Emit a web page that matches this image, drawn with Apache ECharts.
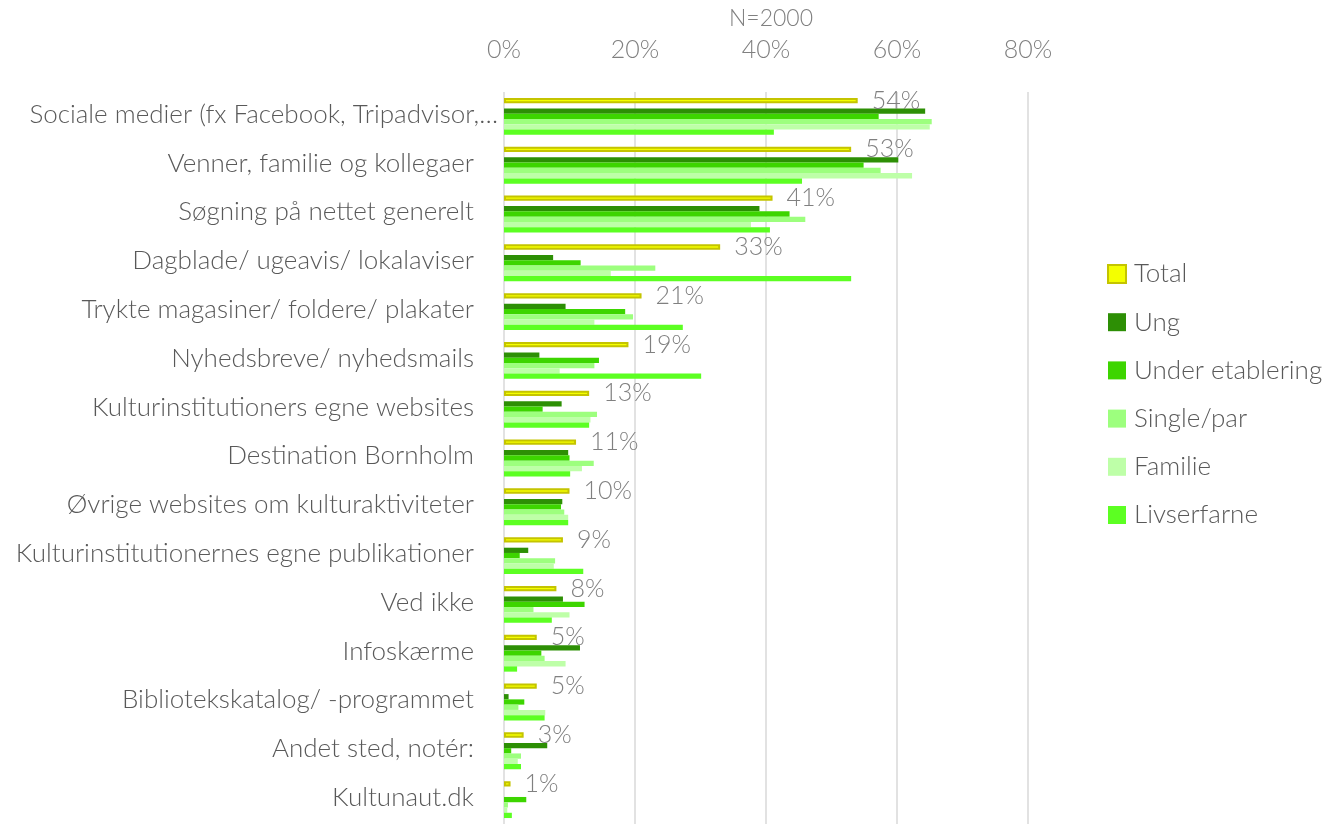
<!DOCTYPE html>
<html>
<head>
<meta charset="utf-8">
<script src="https://cdn.jsdelivr.net/npm/echarts@6/dist/echarts.min.js"></script>
<style>
  html, body { margin: 0; padding: 0; background: #ffffff; }
  #chart { width: 1324px; height: 824px; }
</style>
</head>
<body>
<div id="chart"></div>
<script>
// Where respondents find information about cultural activities (share, %)
const categories = [
  'Sociale medier (fx Facebook, Tripadvisor,…',
  'Venner, familie og kollegaer',
  'Søgning på nettet generelt',
  'Dagblade/ ugeavis/ lokalaviser',
  'Trykte magasiner/ foldere/ plakater',
  'Nyhedsbreve/ nyhedsmails',
  'Kulturinstitutioners egne websites',
  'Destination Bornholm',
  'Øvrige websites om kulturaktiviteter',
  'Kulturinstitutionernes egne publikationer',
  'Ved ikke',
  'Infoskærme',
  'Bibliotekskatalog/ -programmet',
  'Andet sted, notér:',
  'Kultunaut.dk'
];

const seriesNames = ['Total', 'Ung', 'Under etablering', 'Single/par', 'Familie', 'Livserfarne'];

const total            = [54, 53, 41, 33, 21, 19, 13, 11, 10, 9, 8, 5, 5, 3, 1];
const ung              = [64.3, 60.2, 39.0, 7.5, 9.4, 5.4, 8.8, 9.8, 8.9, 3.7, 9.0, 11.6, 0.7, 6.6, 0];
const underEtablering  = [57.2, 54.9, 43.6, 11.7, 18.5, 14.5, 5.9, 10.0, 8.7, 2.4, 12.3, 5.7, 3.1, 1.1, 3.4];
const singlePar        = [65.3, 57.5, 46.0, 23.1, 19.7, 13.8, 14.2, 13.7, 9.2, 7.8, 4.5, 6.2, 2.2, 2.6, 0.6];
const familie          = [65.0, 62.3, 37.7, 16.3, 13.8, 8.5, 13.2, 11.9, 9.8, 7.6, 10.0, 9.4, 6.3, 2.1, 0.5];
const livserfarne      = [41.2, 45.5, 40.6, 53.0, 27.3, 30.1, 13.0, 10.1, 9.8, 12.1, 7.3, 2.0, 6.2, 2.6, 1.2];

const axisMin = 0;
const axisMax = 80;
const axisStep = 20;

const FONT = 'Lato';
const TEXT_DARK = '#595959';
const TEXT_MID = '#808080';
const BAR_W = 5.27;

const groupColors = ['#2d8f05', '#3dd500', '#9dff7e', '#beffa8', '#5cff22'];
const groupData = [ung, underEtablering, singlePar, familie, livserfarne];

const series = [
  {
    name: 'Total',
    type: 'bar',
    data: total,
    barWidth: BAR_W,
    barGap: '0%',
    itemStyle: { color: '#f4ff00', borderColor: '#c4c400', borderWidth: 2 },
    label: {
      show: true,
      position: 'right',
      distance: 14,
      formatter: p => p.value + '%',
      color: TEXT_MID,
      fontFamily: FONT,
      fontWeight: 300,
      fontSize: 25
    },
    z: 3
  },
  // empty slot between the total bar and the segment bars
  {
    name: 'spacer',
    type: 'bar',
    data: [],
    barWidth: BAR_W,
    barGap: '0%',
    silent: true
  }
];

groupData.forEach((arr, i) => {
  series.push({
    name: seriesNames[i + 1],
    type: 'bar',
    data: arr,
    barWidth: BAR_W,
    barGap: '0%',
    itemStyle: { color: groupColors[i] }
  });
});

const chart = echarts.init(document.getElementById('chart'), null, { renderer: 'canvas' });

chart.setOption({
  animation: false,
  backgroundColor: '#ffffff',
  title: {
    text: 'N=2000',
    left: 766,
    top: 2,
    textAlign: 'center',
    textStyle: { color: TEXT_MID, fontFamily: FONT, fontWeight: 300, fontSize: 23 }
  },
  grid: {
    left: 504,
    width: 524,
    top: 92,
    height: 735.3,
    containLabel: false
  },
  legend: {
    data: seriesNames,
    orient: 'vertical',
    left: 1107,
    top: 261,
    padding: 0,
    itemWidth: 18,
    itemHeight: 18,
    itemGap: 22.2,
    icon: 'rect',
    textStyle: {
      color: TEXT_DARK,
      fontFamily: FONT,
      fontWeight: 300,
      fontSize: 26,
      lineHeight: 26,
      padding: [0, 0, 0, 3]
    }
  },
  xAxis: {
    type: 'value',
    position: 'top',
    min: axisMin,
    max: axisMax,
    interval: axisStep,
    axisLine: { show: false },
    axisTick: { show: false },
    axisLabel: {
      formatter: '{value}%',
      color: TEXT_MID,
      fontFamily: FONT,
      fontWeight: 300,
      fontSize: 25,
      margin: 30
    },
    splitLine: { show: true, lineStyle: { color: '#d9d9d9', width: 1.5 } }
  },
  yAxis: {
    type: 'category',
    data: categories,
    inverse: true,
    axisLine: { show: false },
    axisTick: { show: false },
    axisLabel: {
      color: TEXT_DARK,
      fontFamily: FONT,
      fontWeight: 300,
      fontSize: 26,
      margin: 30,
      padding: [0, 0, 4, 0],
      // the truncated first label runs a little past the common right edge
      formatter: (value, idx) => idx === 0 ? '{wide|' + value + '}' : value,
      rich: {
        wide: {
          color: TEXT_DARK,
          fontFamily: FONT,
          fontWeight: 300,
          fontSize: 26,
          padding: [0, -24, 0, 0]
        }
      }
    }
  },
  series: series
});
</script>
</body>
</html>
